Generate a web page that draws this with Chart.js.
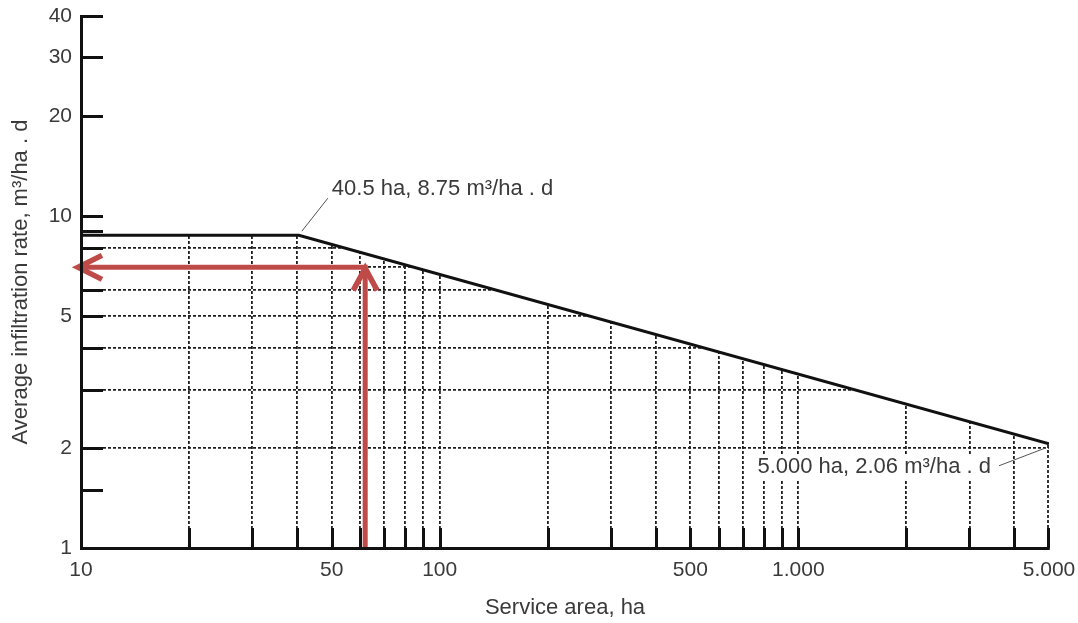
<!DOCTYPE html>
<html><head><meta charset="utf-8">
<script src="https://cdn.jsdelivr.net/npm/chart.js@4.4.1/dist/chart.umd.min.js"></script>
<style>html,body{margin:0;padding:0;background:#fff;}#wrap{width:1078px;height:623px;position:relative;}</style>
</head><body><div id="wrap"><canvas id="c"></canvas></div>
<script>
// Design curve (service area in ha, infiltration rate in m3/ha.d)
const areaHa = [10, 40.5, 5000];
const rateM3 = [8.75, 8.75, 2.06];
// Example reading (red arrows)
const arrowArea = [62, 62, 10];
const arrowRate = [1, 7, 7];
// Axis ticks
const xTicks = [10, 20, 30, 40, 50, 60, 70, 80, 90, 100, 200, 300, 400, 500, 600, 700, 800, 900, 1000, 2000, 3000, 4000, 5000];
const xLabelValues = [10, 50, 100, 500, 1000, 5000];
const xLabelTexts = ['10', '50', '100', '500', '1.000', '5.000'];
const yTicks = [1, 1.5, 2, 3, 4, 5, 6, 7, 8, 9, 10, 20, 30, 40];
const yLabelValues = [1, 2, 5, 10, 20, 30, 40];
const yLabelTexts = ['1', '2', '5', '10', '20', '30', '40'];
const yNoGrid = [1, 1.5, 10, 20, 30, 40];
const annotationTexts = ['40.5 ha, 8.75 m\u00B3/ha . d', '5.000 ha, 2.06 m\u00B3/ha . d'];

const FONT = '"Liberation Sans", Arial, Helvetica, sans-serif';
const TXT = '#3a3a3a';
const RED = '#bf4b49';
const GRID = '#1e1e1e';

const tickPlugin = {
  id: 'innerTicks',
  afterDatasetDraw(chart, args) {
    if (args.index !== 1) return;
    const {ctx, chartArea: a, scales: {x, y}} = chart;
    ctx.save();
    // dashed grid line on the right edge, up to the curve end
    const ex = x.getPixelForValue(areaHa[areaHa.length - 1]) - 1;
    const ey = y.getPixelForValue(rateM3[rateM3.length - 1]);
    ctx.strokeStyle = GRID; ctx.lineWidth = 1.8; ctx.setLineDash([3, 2]);
    ctx.beginPath(); ctx.moveTo(ex, a.bottom); ctx.lineTo(ex, ey); ctx.stroke();
    ctx.setLineDash([]);
    // white box behind the lower annotation
    const p2x = x.getPixelForValue(areaHa[2]), p2y = y.getPixelForValue(rateM3[2]);
    ctx.font = '22px ' + FONT;
    const w = ctx.measureText(annotationTexts[1]).width;
    ctx.fillStyle = '#fff';
    ctx.fillRect(p2x - 58 - w - 4, p2y + 11, w + 8, 25);
    // inward tick marks
    ctx.strokeStyle = '#111';
    ctx.lineWidth = 3;
    ctx.lineCap = 'butt';
    ctx.beginPath();
    yTicks.forEach((v, i) => {
      if (i === 0) return;
      const py = Math.round(y.getPixelForValue(v)) + 0.5;
      ctx.moveTo(a.left, py); ctx.lineTo(a.left + 22, py);
    });
    xTicks.forEach((v, i) => {
      if (i === 0) return;
      let px = Math.round(x.getPixelForValue(v)) + 0.5;
      if (i === xTicks.length - 1) px -= 1;
      ctx.moveTo(px, a.bottom); ctx.lineTo(px, a.bottom - 20);
    });
    ctx.stroke();
    ctx.restore();
  },
  afterDatasetsDraw(chart) {
    const {ctx, scales: {x, y}} = chart;
    ctx.save();
    // arrowheads
    ctx.strokeStyle = RED; ctx.lineWidth = 5.5; ctx.lineCap = 'butt'; ctx.lineJoin = 'miter';
    const tx = x.getPixelForValue(arrowArea[1]), ty = y.getPixelForValue(arrowRate[1]);
    ctx.beginPath();
    ctx.moveTo(tx - 12, ty + 23); ctx.lineTo(tx, ty + 1); ctx.lineTo(tx + 12, ty + 23);
    ctx.stroke();
    const lx = x.getPixelForValue(arrowArea[2]) - 3, ly = y.getPixelForValue(arrowRate[2]);
    ctx.beginPath();
    ctx.moveTo(lx + 24, ly - 12); ctx.lineTo(lx, ly); ctx.lineTo(lx + 24, ly + 12);
    ctx.stroke();
    // annotations
    ctx.strokeStyle = '#555'; ctx.lineWidth = 1;
    const p1x = x.getPixelForValue(areaHa[1]), p1y = y.getPixelForValue(rateM3[1]);
    const p2x = x.getPixelForValue(areaHa[2]), p2y = y.getPixelForValue(rateM3[2]);
    ctx.beginPath();
    ctx.moveTo(p1x + 3, p1y - 4); ctx.lineTo(p1x + 29, p1y - 37);
    ctx.moveTo(p2x - 50, p2y + 22); ctx.lineTo(p2x - 3, p2y + 4);
    ctx.stroke();
    ctx.fillStyle = TXT; ctx.font = '22px ' + FONT; ctx.textBaseline = 'middle';
    ctx.textAlign = 'left';
    ctx.fillText(annotationTexts[0], p1x + 33, p1y - 46);
    ctx.textAlign = 'right';
    ctx.fillText(annotationTexts[1], p2x - 58, p2y + 23);
    ctx.restore();
  }
};

new Chart(document.getElementById('c'), {
  type: 'line',
  data: {
    datasets: [
      {
        data: arrowArea.map((v, i) => ({x: v, y: arrowRate[i]})),
        borderColor: RED, borderWidth: 5, pointRadius: 0, fill: false, tension: 0,
        borderJoinStyle: 'miter'
      },
      {
        data: areaHa.map((v, i) => ({x: v, y: rateM3[i]})),
        borderColor: '#111', borderWidth: 3, pointRadius: 0,
        fill: 'end', backgroundColor: '#ffffff', tension: 0
      }
    ]
  },
  options: {
    responsive: true, maintainAspectRatio: false, animation: false,
    layout: {padding: {left: 0, right: 29, top: 16, bottom: 0}},
    plugins: {legend: {display: false}, tooltip: {enabled: false}},
    scales: {
      x: {
        type: 'logarithmic', min: 10, max: 5000,
        afterBuildTicks: s => { s.ticks = xTicks.map(v => ({value: v})); },
        afterFit: s => { s.height = 75; s.paddingRight = 0; s.paddingLeft = 0; },
        grid: {
          drawTicks: false, lineWidth: 1.8,
          color: c => (c.tick && (c.tick.value === xTicks[0] || c.tick.value === xTicks[xTicks.length - 1])) ? 'rgba(0,0,0,0)' : GRID
        },
        border: {display: true, color: '#111', width: 3, dash: [3, 2], z: 1},
        ticks: {
          autoSkip: false, maxRotation: 0, padding: 10, color: TXT,
          font: {family: FONT, size: 21},
          callback: v => { const i = xLabelValues.indexOf(v); return i >= 0 ? xLabelTexts[i] : ''; }
        },
        title: {display: true, text: 'Service area, ha', color: TXT,
          font: {family: FONT, size: 22}, padding: {top: 0, bottom: 2}}
      },
      y: {
        type: 'logarithmic', min: 1, max: 40,
        afterBuildTicks: s => { s.ticks = yTicks.map(v => ({value: v})); },
        afterFit: s => { s.width = 81; s.paddingTop = 0; s.paddingBottom = 0; },
        grid: {
          drawTicks: false, lineWidth: 1.8,
          color: c => (c.tick && yNoGrid.includes(c.tick.value)) ? 'rgba(0,0,0,0)' : GRID
        },
        border: {display: true, color: '#111', width: 3, dash: [3, 2], z: 1},
        ticks: {
          autoSkip: false, padding: 9, color: TXT,
          font: {family: FONT, size: 21},
          callback: v => { const i = yLabelValues.indexOf(v); return i >= 0 ? yLabelTexts[i] : ''; }
        },
        title: {display: true, text: 'Average infiltration rate, m\u00B3/ha . d', color: TXT,
          font: {family: FONT, size: 22}, padding: {top: 8, bottom: 0}}
      }
    }
  },
  plugins: [tickPlugin]
});
</script></body></html>
